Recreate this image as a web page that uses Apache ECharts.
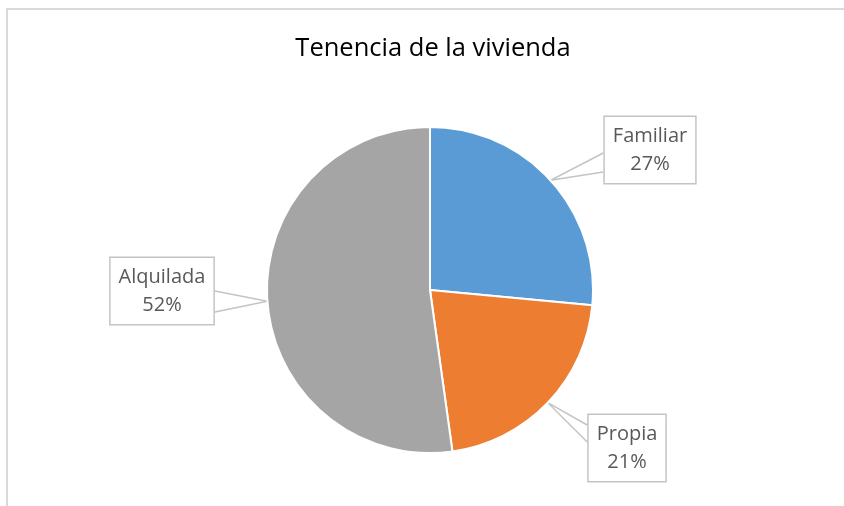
<!DOCTYPE html>
<html>
<head>
<meta charset="utf-8">
<script src="https://cdn.jsdelivr.net/npm/echarts@6/dist/echarts.min.js"></script>
<style>
  html, body { margin: 0; padding: 0; background: #fff; }
  #chart { width: 844px; height: 506px; }
</style>
</head>
<body>
<div id="chart"></div>
<script>
const categories = ['Familiar', 'Propia', 'Alquilada']
const shares = [26.5, 21.3, 52.2]
const colors = ['#5B9BD5', '#ED7D31', '#A5A5A5']

// where each callout box sits (centre of box) and where its pointer leaves the box
const callouts = [
  { x: 650, y: 150, side: 'left', from: 3, to: 22 },
  { x: 627, y: 448, side: 'left', from: -23, to: -6 },
  { x: 162, y: 291, side: 'right', from: 0, to: 21 }
]

const chart = echarts.init(document.getElementById('chart'))

chart.setOption({
  animation: false,
  title: {
    text: 'Tenencia de la vivienda',
    left: 428,
    top: 31,
    textAlign: 'center',
    textStyle: {
      fontFamily: 'Open Sans',
      fontSize: 25.5,
      fontWeight: 'normal',
      color: '#000'
    }
  },
  graphic: [{
    type: 'rect',
    shape: { x: 7, y: 9, width: 900, height: 600 },
    style: { fill: 'none', stroke: '#d9d9d9', lineWidth: 2 },
    silent: true
  }],
  series: [{
    type: 'pie',
    center: [430, 290],
    radius: 163,
    startAngle: 90,
    clockwise: true,
    avoidLabelOverlap: false,
    percentPrecision: 0,
    itemStyle: { borderColor: '#fff', borderWidth: 2 },
    label: {
      show: true,
      position: 'outside',
      formatter: '{b}\n{d}%',
      fontFamily: 'Open Sans',
      fontSize: 20,
      lineHeight: 28,
      color: '#595959',
      align: 'center',
      backgroundColor: '#fff',
      borderColor: '#c4c4c4',
      borderWidth: 1.5,
      padding: [5, 8]
    },
    labelLine: {
      show: true,
      lineStyle: { color: '#c4c4c4', width: 1.5 }
    },
    labelLayout: function (params) {
      const c = callouts[params.dataIndex]
      const w = params.labelRect.width
      const tip = params.labelLinePoints ? params.labelLinePoints[0] : [c.x, c.y]
      const ex = c.side === 'left' ? c.x - w / 2 : c.x + w / 2
      return {
        x: c.x,
        y: c.y,
        align: 'center',
        verticalAlign: 'middle',
        labelLinePoints: [[ex, c.y + c.from], tip, [ex, c.y + c.to]]
      }
    },
    data: categories.map((name, i) => ({
      name: name,
      value: shares[i],
      itemStyle: { color: colors[i] }
    }))
  }]
})
</script>
</body>
</html>
